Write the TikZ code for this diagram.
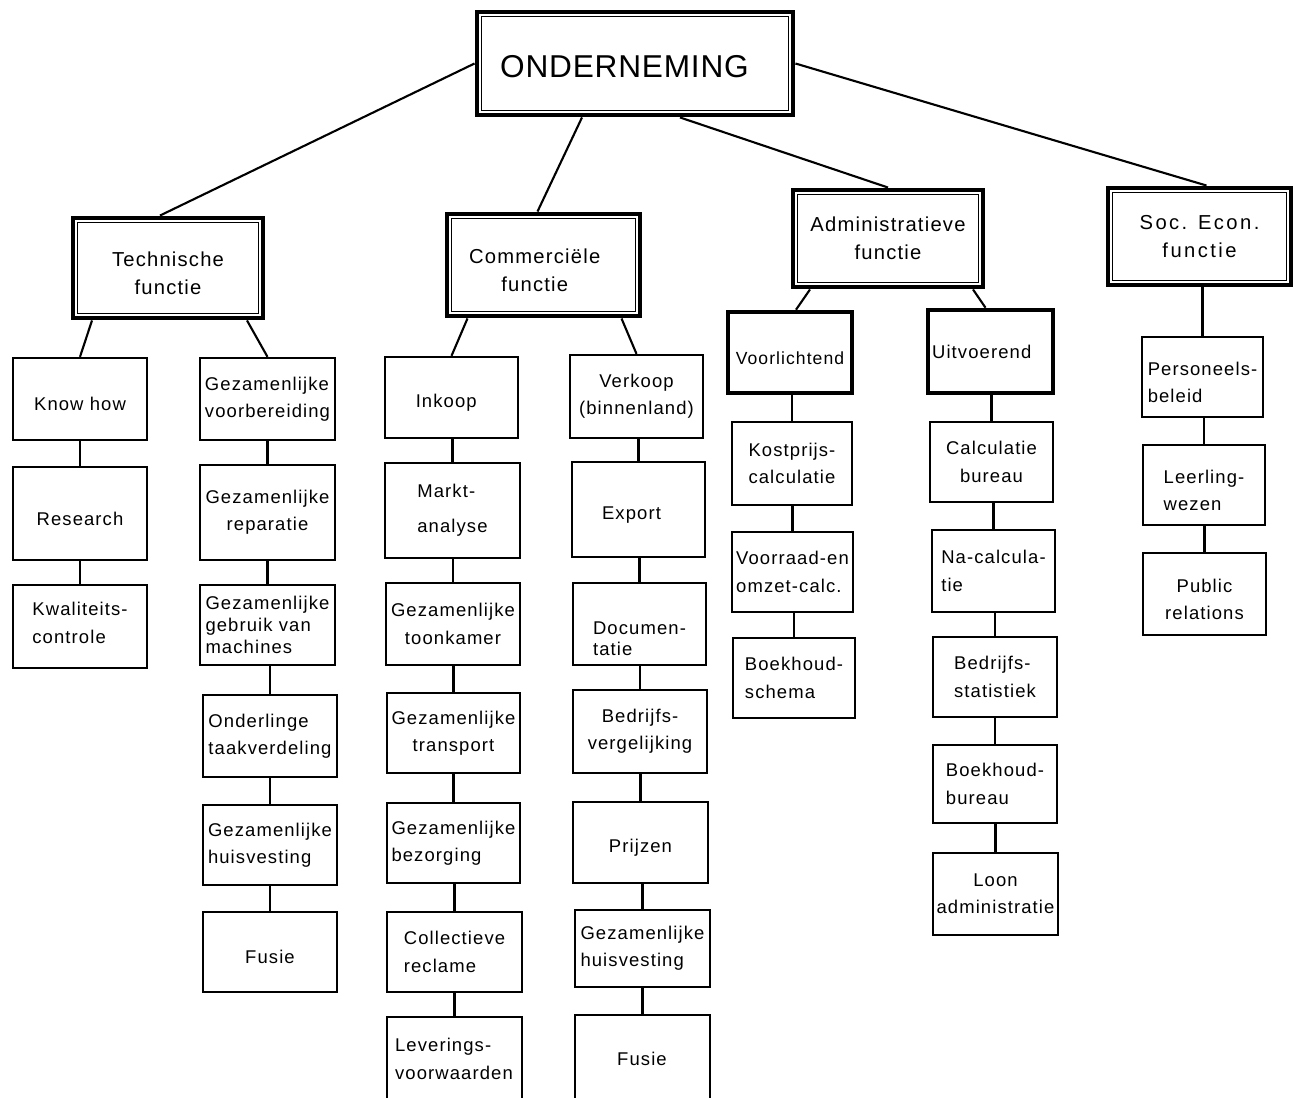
\documentclass[tikz,border=0pt]{standalone}
\usepackage{fontspec}
\setmainfont{Liberation Sans}[LetterSpace=6]
\usetikzlibrary{fit,calc}
\tikzset{
  sbox/.style={draw, line width=1.3pt, inner sep=0pt},
  tbox/.style={sbox, line width=2.6pt},
  dbox/.style={draw, line width=2.8pt, inner sep=0pt},
  lab/.style={inner sep=0pt, align=left, font=\fontsize{10.5}{15.5}\selectfont},
  labc/.style={lab, align=center},
  low/.style={yshift=-3pt},
  hlab/.style={inner sep=0pt, align=center, font=\fontsize{11.5}{16}\selectfont},
  inline/.style={line width=1pt},
  conn/.style={line width=1.2pt}
}
\begin{document}
\begin{tikzpicture}[x=0.02cm,y=-0.02cm]
\useasboundingbox (0,0) rectangle (1295,1098);
\clip (0,0) rectangle (1295,1098);

% top level
\node[dbox, fit={(477,12) (793,115)},
  label={[inner sep=0pt, font=\fontsize{18}{20}\selectfont\addfontfeature{LetterSpace=2.5}, xshift=-6pt, yshift=-1.5pt]center:ONDERNEMING}] (onder) {};
\node[dbox, fit={(73,218) (263,318)}, label={[hlab, low]center:Technische\\functie}] (tech) {};
\node[dbox, fit={(447,214) (640,316)}, label={[hlab, xshift=-5pt, low]center:Commerciële\\functie}] (comm) {};
\node[dbox, fit={(793,190) (983,287)}, label={[hlab]center:Administratieve\\functie}] (adm) {};
\node[dbox, fit={(1108,188) (1291,285)}, label={[hlab, font=\fontsize{11.5}{16}\selectfont\addfontfeature{LetterSpace=12}]center:Soc. Econ.\\functie}] (soc) {};
\foreach \n in {onder,tech,comm,adm,soc}
  \draw[inline] ($(\n.south west)+(7,-7)$) rectangle ($(\n.north east)+(-7,7)$);

\node[tbox, fit={(728,312) (852,393)}, label={[lab, low, font=\fontsize{10}{15}\selectfont]center:Voorlichtend}] (vl) {};
\node[tbox, fit={(928,310) (1053,393)}, label={[lab, xshift=-5pt]center:Uitvoerend}] (uv) {};

% Technische
\node[sbox, fit={(13,358) (147,440)}, label={[lab, low]center:Know how}] (kh) {};
\node[sbox, fit={(13,467) (147,560)}, label={[lab, low]center:Research}] (res) {};
\node[sbox, fit={(13,585) (147,668)}, label={[lab, yshift=2pt]center:Kwaliteits-\\controle}] (kwal) {};
\node[sbox, fit={(200,358) (335,440)}, label={[lab]center:Gezamenlijke\\voorbereiding}] (gv) {};
\node[sbox, fit={(200,465) (335,560)}, label={[labc]center:Gezamenlijke\\reparatie}] (gr) {};
\node[sbox, fit={(200,585) (335,665)}, label={[lab, font=\fontsize{10.5}{12.5}\selectfont]center:Gezamenlijke\\gebruik van\\machines}] (gg) {};
\node[sbox, fit={(203,695) (337,777)}, label={[lab]center:Onderlinge\\taakverdeling}] (ond) {};
\node[sbox, fit={(203,805) (337,885)}, label={[lab]center:Gezamenlijke\\huisvesting}] (ghv) {};
\node[sbox, fit={(203,912) (337,992)}, label={[lab, low]center:Fusie}] (fus) {};

% Commercieel
\node[sbox, fit={(385,357) (518,438)}, label={[lab, xshift=-3pt, low]center:Inkoop}] (ink) {};
\node[sbox, fit={(385,463) (520,558)}, label={[lab, font=\fontsize{10.5}{20}\selectfont]center:Markt-\\analyse}] (mkt) {};
\node[sbox, fit={(386,583) (520,665)}, label={[labc]center:Gezamenlijke\\toonkamer}] (gtk) {};
\node[sbox, fit={(387,693) (520,773)}, label={[labc]center:Gezamenlijke\\transport}] (gtr) {};
\node[sbox, fit={(387,803) (520,883)}, label={[lab]center:Gezamenlijke\\bezorging}] (gbz) {};
\node[sbox, fit={(387,912) (522,992)}, label={[lab]center:Collectieve\\reclame}] (col) {};
\node[sbox, fit={(387,1017) (522,1180)}] (lev) {};
\node[lab] at (454,1059) (levt) {Leverings-\\voorwaarden};

\node[sbox, fit={(570,355) (703,438)}, label={[labc]center:Verkoop\\(binnenland)}] (vk) {};
\node[sbox, fit={(572,462) (705,557)}, label={[lab, xshift=-4pt, low]center:Export}] (exp) {};
\node[sbox, fit={(573,583) (706,665)}, label={[lab, font=\fontsize{10.5}{12}\selectfont, yshift=-8.5pt]center:Documen-\\tatie}] (doc) {};
\node[sbox, fit={(573,690) (707,773)}, label={[labc]center:Bedrijfs-\\vergelijking}] (bv) {};
\node[sbox, fit={(573,802) (708,883)}, label={[lab, low]center:Prijzen}] (prz) {};
\node[sbox, fit={(575,910) (710,987)}, label={[lab]center:Gezamenlijke\\huisvesting}] (ghv2) {};
\node[sbox, fit={(575,1015) (710,1180)}] (fus2) {};
\node[lab] at (642,1059) (fus2t) {Fusie};

% Administratief
\node[sbox, fit={(732,422) (852,505)}, label={[lab]center:Kostprijs-\\calculatie}] (kc) {};
\node[sbox, fit={(732,532) (853,612)}, label={[lab]center:Voorraad-en\\omzet-calc.}] (vr) {};
\node[sbox, fit={(733,638) (855,718)}, label={[lab]center:Boekhoud-\\schema}] (bs) {};
\node[sbox, fit={(930,422) (1053,502)}, label={[labc]center:Calculatie\\bureau}] (cb) {};
\node[sbox, fit={(932,530) (1055,612)}, label={[lab]center:Na-calcula-\\tie}] (nac) {};
\node[sbox, fit={(933,637) (1057,717)}, label={[lab]center:Bedrijfs-\\statistiek}] (bst) {};
\node[sbox, fit={(933,745) (1057,823)}, label={[lab]center:Boekhoud-\\bureau}] (bb) {};
\node[sbox, fit={(933,853) (1058,935)}, label={[labc]center:Loon\\administratie}] (loon) {};

% Soc. Econ.
\node[sbox, fit={(1142,337) (1263,417)}, label={[lab, low]center:Personeels-\\beleid}] (pb) {};
\node[sbox, fit={(1143,445) (1265,525)}, label={[lab, low]center:Leerling-\\wezen}] (lw) {};
\node[sbox, fit={(1143,553) (1266,635)}, label={[labc, low]center:Public\\relations}] (pr) {};

% main connectors
\draw[conn] (onder.west) -- ($(tech.north)+(-8,0)$);
\draw[conn] ($(onder.south)+(-53,0)$) -- ($(comm.north)+(-6,0)$);
\draw[conn] ($(onder.south)+(45,0)$) -- (adm.north);
\draw[conn] (onder.east) -- ($(soc.north)+(7,0)$);

\draw[conn] ($(tech.south)+(-76,0)$) -- (kh.north);
\draw[conn] ($(tech.south)+(79,0)$) -- (gv.north);
\draw[conn] ($(comm.south)+(-76,0)$) -- (ink.north);
\draw[conn] ($(comm.south)+(78,0)$) -- (vk.north);
\draw[conn] ($(adm.south)+(-78,0)$) -- ($(vl.north)+(6,0)$);
\draw[conn] ($(adm.south)+(85,0)$) -- ($(uv.north)+(-5,0)$);
\draw[conn] (pb.north |- soc.south) -- (pb.north);

% column chains
\foreach \a/\b in {kh/res, res/kwal, gv/gr, gr/gg, gg/ond, ond/ghv, ghv/fus,
  ink/mkt, mkt/gtk, gtk/gtr, gtr/gbz, gbz/col, col/lev,
  vk/exp, exp/doc, doc/bv, bv/prz, prz/ghv2, ghv2/fus2,
  vl/kc, kc/vr, vr/bs, uv/cb, cb/nac, nac/bst, bst/bb, bb/loon,
  pb/lw, lw/pr}
  \draw[conn] (\b.north |- \a.south) -- (\b.north);
\end{tikzpicture}
\end{document}
